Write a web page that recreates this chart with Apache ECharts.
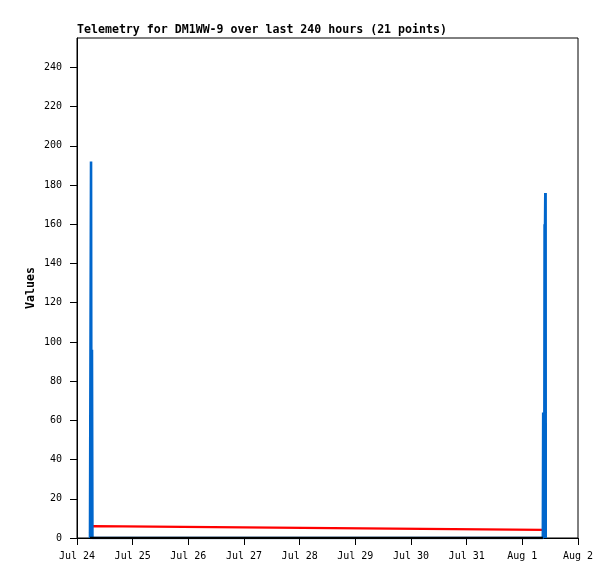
<!DOCTYPE html>
<html><head><meta charset="utf-8">
<script src="https://cdn.jsdelivr.net/npm/echarts@6/dist/echarts.min.js"></script>
<style>html,body{margin:0;padding:0;background:#fff}#c{width:615px;height:579px}</style>
</head><body><div id="c"></div><script>
const titleText = 'Telemetry for DM1WW-9 over last 240 hours (21 points)';
const times = [
  '2024-07-24T05:36Z','2024-07-24T05:51Z','2024-07-24T06:03Z','2024-07-24T06:15Z',
  '2024-07-24T06:27Z','2024-07-24T06:39Z','2024-07-24T06:51Z',
  '2024-08-01T08:51Z','2024-08-01T09:00Z','2024-08-01T09:09Z','2024-08-01T09:18Z',
  '2024-08-01T09:27Z','2024-08-01T09:36Z','2024-08-01T09:42Z','2024-08-01T09:48Z',
  '2024-08-01T09:54Z','2024-08-01T09:58Z','2024-08-01T10:02Z','2024-08-01T10:05Z',
  '2024-08-01T10:07Z','2024-08-01T10:09Z'
];
const blueValues = [0,0,192,0,96,0,0, 0,64,0,64,0,160,0,160,176,0,176,0,0,0];
const redValues = [2.5,5.3,6.1,6.1,6.1,6.1,6.1, 4.1,4.1,4.1,4.1,4.1,4.1,4.1,4.1,4.1,4.1,4.1,4.1,4.1,4.1];
const blackValues = [0,0,0,0,0,0,0, 0,null,null,null,null,null,null,null,null,null,null,null,null,null];
const yTicks = [0,20,40,60,80,100,120,140,160,180,200,220,240];
const xStart = '2024-07-24T00:00Z';
const xEnd = '2024-08-02T00:00Z';
const months = ['Jan','Feb','Mar','Apr','May','Jun','Jul','Aug','Sep','Oct','Nov','Dec'];

const t = times.map(s => Date.parse(s));
const pair = vals => vals.map((v, i) => [t[i], v]);
const DAY = 86400000;
const mono = 'DejaVu Sans Mono';

const chart = echarts.init(document.getElementById('c'), null, {renderer: 'canvas'});
chart.setOption({
  animation: false,
  backgroundColor: '#fff',
  title: {
    text: titleText, left: 72, top: 19,
    textStyle: {fontFamily: mono, fontSize: 11.6, fontWeight: 'bold', color: '#000'}
  },
  grid: {left: 77, right: 37, top: 38, bottom: 41, show: true, borderColor: '#000', borderWidth: 1},
  xAxis: {
    type: 'value', min: Date.parse(xStart), max: Date.parse(xEnd), interval: DAY,
    splitLine: {show: false},
    axisLine: {lineStyle: {color: '#000', width: 1}},
    axisTick: {length: 7, lineStyle: {color: '#000'}},
    axisLabel: {
      margin: 13, color: '#000', fontFamily: mono, fontSize: 10,
      showMaxLabel: true, showMinLabel: true,
      formatter: v => { const d = new Date(v); return months[d.getUTCMonth()] + ' ' + d.getUTCDate(); }
    }
  },
  yAxis: {
    type: 'value', min: 0, max: 255,
    name: 'Values', nameLocation: 'middle', nameGap: 40, nameMoveOverlap: false,
    nameTextStyle: {fontFamily: mono, fontSize: 11.6, fontWeight: 'bold', color: '#000'},
    splitLine: {show: false},
    axisLine: {show: true, lineStyle: {color: '#000', width: 1}},
    axisTick: {show: true, length: 7, lineStyle: {color: '#000'}, customValues: yTicks},
    axisLabel: {margin: 15, color: '#000', fontFamily: mono, fontSize: 10, customValues: yTicks}
  },
  series: [
    {type: 'line', data: pair(redValues), showSymbol: false, z: 2,
     lineStyle: {color: '#ff0000', width: 2.2}},
    {type: 'line', data: pair(blueValues), showSymbol: false, z: 3,
     lineStyle: {color: '#0066cc', width: 2.6}},
    {type: 'line', data: pair(blackValues), showSymbol: false, z: 4, connectNulls: false,
     lineStyle: {color: '#000', width: 2.4}}
  ]
});
</script></body></html>
